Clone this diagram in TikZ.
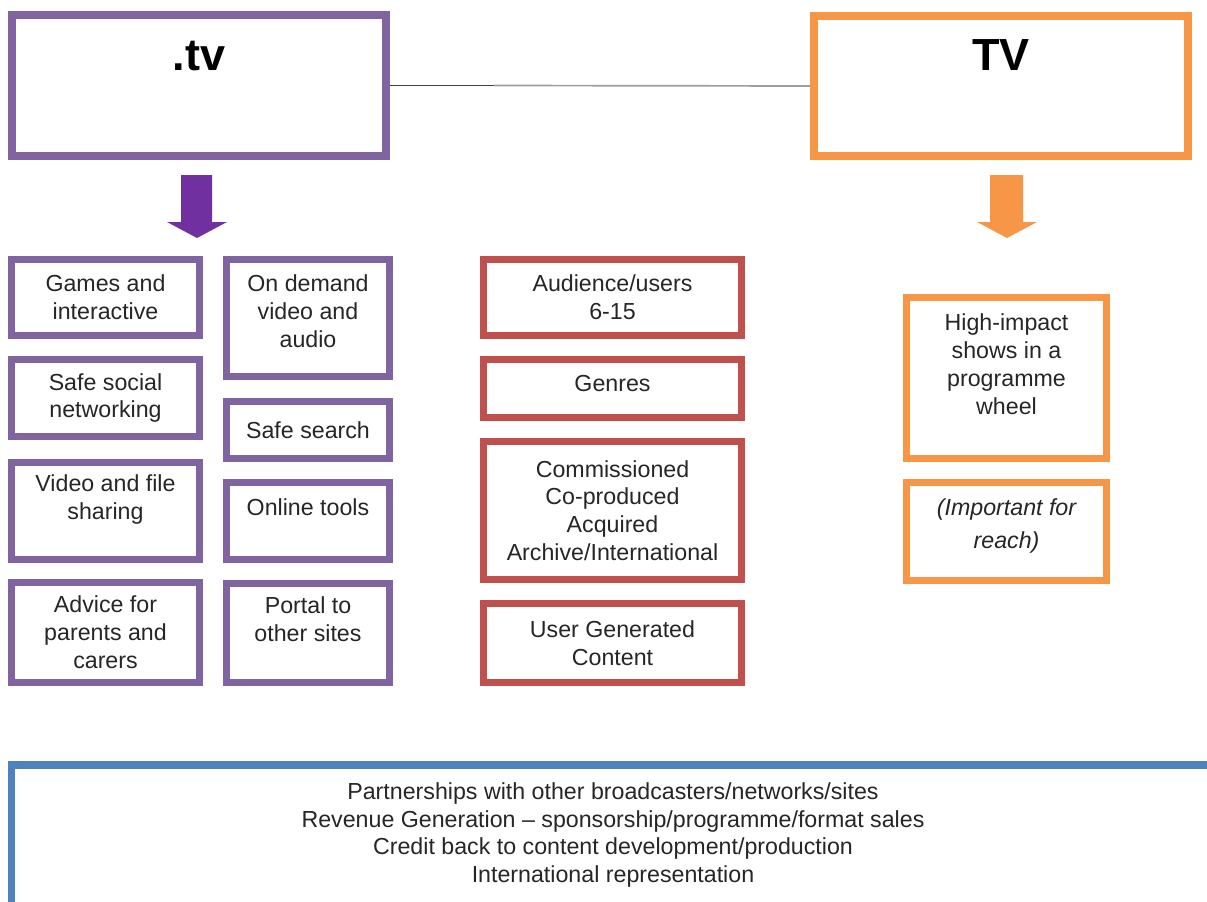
\documentclass[tikz,border=0pt]{standalone}
\usepackage{fontspec}
\setmainfont{Liberation Sans}
\usepackage{tikz}
\usepackage{xcolor}

\definecolor{tvpurple}{HTML}{8064A2}
\definecolor{arrowpurple}{HTML}{7030A0}
\definecolor{tvred}{HTML}{C0504D}
\definecolor{tvorange}{HTML}{F79646}
\definecolor{tvblue}{HTML}{4F81BD}
\definecolor{txt}{HTML}{262626}

\begin{document}
\begin{tikzpicture}[x=0.025cm,y=-0.025cm,
  sz/.style 2 args={minimum width=#1*0.025cm, minimum height=#2*0.025cm},
  box/.style={draw, line width=5pt, fill=white, align=center, inner sep=2pt, text=txt,
    font=\fontsize{16.5}{19.8}\selectfont},
  pbox/.style={box, draw=tvpurple},
  rbox/.style={box, draw=tvred},
  obox/.style={box, draw=tvorange},
  titlebox/.style={draw, line width=5.7pt, fill=white},
  titletext/.style={anchor=base, font=\fontsize{32}{38}\selectfont\bfseries}]
\clip (0,0) rectangle (1207,901);
\fill[white] (0,0) rectangle (1207,901);

\node[titlebox, draw=tvpurple, sz={374}{141}] (dottv) at (199,85.5) {};
\node[titletext] (dottvlbl) at (199,70) {.tv};
\node[titlebox, draw=tvorange, sz={374}{140}] (tv) at (1001,86) {};
\node[titletext] (tvlbl) at (1001,70) {TV};
\coordinate (mid) at (494,85.5);
\draw [line width=1pt, black!75] (dottv.east) -- (mid);
\draw [line width=1.2pt, black!38] (mid) -- (tv.west);

\fill[arrowpurple] (181,175) -- (212,175) -- (212,222) -- (227,222) -- (197,238) -- (167,222) -- (181,222) -- cycle;
\fill[tvorange] (990,175) -- (1023,175) -- (1023,222) -- (1037,222) -- (1007,238) -- (977,222) -- (990,222) -- cycle;

\node[pbox, sz={188}{76}] (games) at (105.5,297.5) {Games and\\interactive};
\node[pbox, sz={188}{77}] (social) at (105.5,398) {Safe social\\networking};
\node[pbox, sz={188}{97}] (sharing) at (105.5,511) {Video and file\\sharing\\\mbox{}};
\node[pbox, sz={188}{100}] (advice) at (105.5,632.5) {Advice for\\parents and\\carers};

\node[pbox, sz={163}{117}] (ondemand) at (308,318) {On demand\\video and\\audio\\[-9.8pt]\mbox{}};
\node[pbox, sz={163}{57}] (search) at (308,430) {Safe search};
\node[pbox, sz={163}{77}] (tools) at (308,521) {Online tools\\\mbox{}};
\node[pbox, sz={163}{99}] (portal) at (308,633) {Portal to\\other sites\\\mbox{}};

\node[rbox, sz={258}{76}] (audience) at (612.5,297.5) {Audience/users\\6-15};
\node[rbox, sz={258}{58}] (genres) at (612.5,388.5) {Genres\\[-12.7pt]\mbox{}};
\node[rbox, sz={258}{138}] (commissioned) at (612.5,510.5) {Commissioned\\Co-produced\\Acquired\\Archive/International};
\node[rbox, sz={258}{79}] (ugc) at (612.5,643) {User Generated\\Content};

\node[obox, sz={200}{161}] (impact) at (1006.5,378) {High-impact\\shows in a\\programme\\wheel\\\mbox{}};
\node[obox, sz={200}{98}] (reach) at (1006.5,531.5) {\itshape (Important for\\[3.6pt]\itshape reach)\\[-8.4pt]\mbox{}};

\node[box, draw=tvblue, sz={1203.5}{140}] (partners) at (613,835) {Partnerships with other broadcasters/networks/sites\\Revenue Generation -- sponsorship/programme/format sales\\Credit back to content development/production\\International representation};
\end{tikzpicture}
\end{document}
